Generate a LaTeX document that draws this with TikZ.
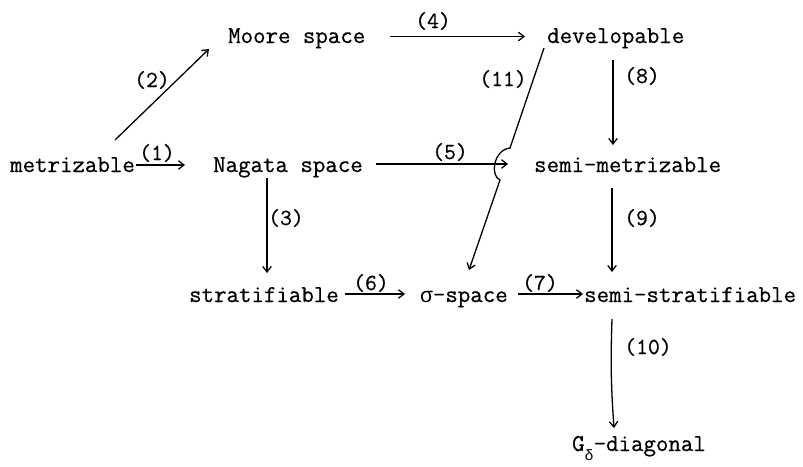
\documentclass[tikz,border=0pt]{standalone}
\usepackage{fontspec}
\newfontfamily\termfont{Latin Modern Mono}[FakeBold=0.6]
\newfontfamily\greekfont{Liberation Mono}
\usetikzlibrary{arrows.meta}
\begin{document}
\begin{tikzpicture}[x=1pt,y=1pt,
  term/.style={font=\termfont\fontsize{24.2}{28}\selectfont, inner sep=0pt, anchor=base west},
  lab/.style={font=\termfont\fontsize{23}{27}\selectfont, inner sep=0pt},
  imp/.style={line width=1.3pt, -{Straight Barb[length=5.5pt,width=8.5pt]}},
]
\useasboundingbox (0,0) rectangle (803,-466);
\fill[white] (0,0) rectangle (803,-466);

% the properties
\node[term] (m)   at (10,-172)  {metrizable};
\node[term] (Mo)  at (228,-43)  {Moore space};
\node[term] (N)   at (213,-172) {Nagata space};
\node[term] (d)   at (547,-43)  {developable};
\node[term] (sm)  at (534,-172) {semi-metrizable};
\node[term] (st)  at (189,-302) {stratifiable};
\node[term] (sig) at (420,-302) {{\greekfont\fontsize{21.2}{25}\selectfont σ}-space};
\node[term] (ss)  at (584,-302) {semi-stratifiable};
\node[term] (g)   at (572,-451) {G\raisebox{-9pt}{\greekfont\fontsize{15}{15}\selectfont δ}-diagonal};

% implications
\draw[imp] ([shift={(1,7)}]m.base east) -- ([shift={(-28,7)}]N.base west);
\draw[imp] ([shift={(105,32)}]m.base west) -- ([shift={(-19,-6)}]Mo.base west);
\draw[imp] ([shift={(54,-6)}]N.base west) -- ([shift={(78,29)}]st.base west);
\draw[imp] ([shift={(25,6.5)}]Mo.base east) -- ([shift={(-22,6.5)}]d.base west);
\draw[imp] ([shift={(13,8)}]N.base east) -- ([shift={(-26,8)}]sm.base west);
\draw[imp] ([shift={(6,8)}]st.base east) -- ([shift={(-15,8)}]sig.base west);
\draw[imp] ([shift={(10,8)}]sig.base east) -- ([shift={(-1,8)}]ss.base west);
\draw[imp] ([shift={(66,-17)}]d.base west) -- ([shift={(79,27)}]sm.base west);
\draw[imp] ([shift={(78,-16)}]sm.base west) -- ([shift={(28,30)}]ss.base west);
\draw[imp] ([shift={(28,-17)}]ss.base west) to[bend right=3] ([shift={(42,23)}]g.base west);

% (11) jumps over the (5) line
\coordinate (j1) at (510,-148);
\coordinate (j2) at (500,-180);
\draw[imp] ([shift={(-3,-5)}]d.base west) -- (j1)
  .. controls (493,-150) and (490,-176) .. (j2)
  -- ([shift={(49,32)}]sig.base west);

% labels
\node[lab] (l1)  at (157,-153) {(1)};
\node[lab] (l2)  at (152,-80)  {(2)};
\node[lab] (l3)  at (286,-218) {(3)};
\node[lab] (l4)  at (433,-21)  {(4)};
\node[lab] (l5)  at (450,-152) {(5)};
\node[lab] (l6)  at (371,-283) {(6)};
\node[lab] (l7)  at (540,-283) {(7)};
\node[lab] (l8)  at (642,-76)  {(8)};
\node[lab] (l9)  at (642,-218) {(9)};
\node[lab] (l10) at (648,-347) {(10)};
\node[lab] (l11) at (503,-79)  {(11)};
\end{tikzpicture}
\end{document}
